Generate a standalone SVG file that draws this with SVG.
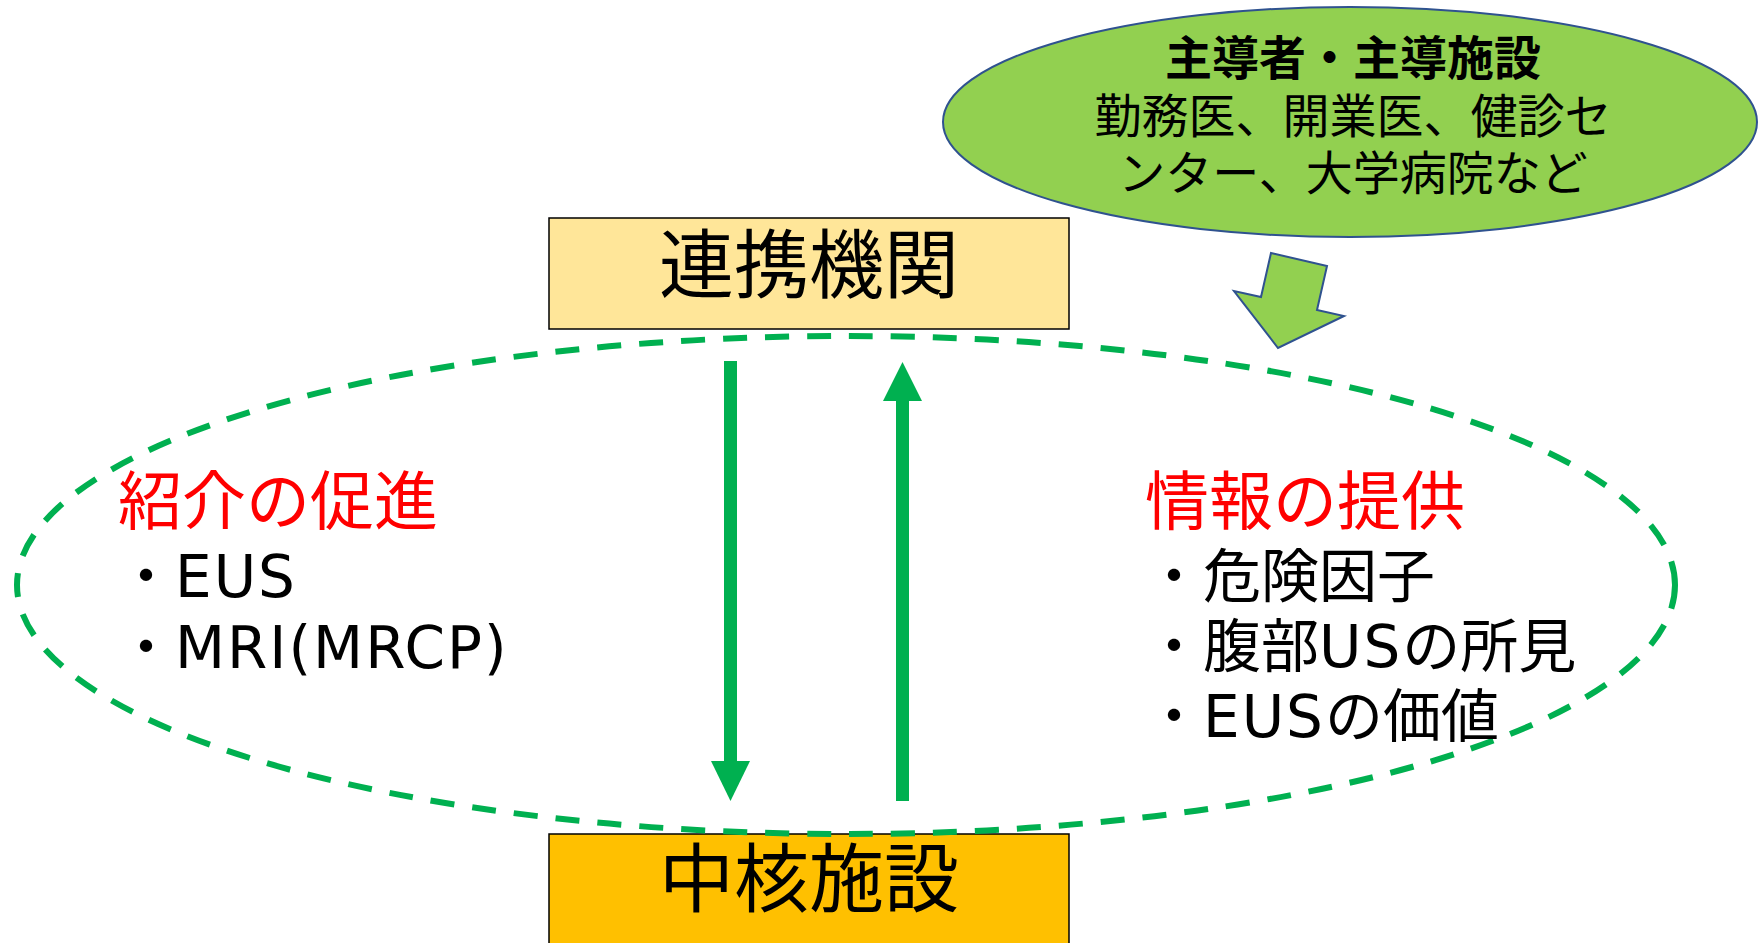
<svg xmlns="http://www.w3.org/2000/svg" width="1760" height="943" viewBox="0 0 1760 943">
<style>
.jp{font-family:"Noto Sans CJK JP","Noto Sans CJK SC",sans-serif;}
.mix{font-family:"DejaVu Sans","Noto Sans CJK JP",sans-serif;}
.lat{letter-spacing:2px;}
.box{stroke:#000;stroke-width:1.5;}
.big{font-size:75px;fill:#000;text-anchor:middle;}
.head{font-size:64px;fill:#FF0000;}
.item{font-size:58px;fill:#000;}
.bub{font-size:47px;fill:#000;text-anchor:middle;}
.garrow{fill:#00B050;}
</style>
<rect width="1760" height="943" fill="#FFFFFF"/>
<g id="node-renkei">
<rect class="box" x="549" y="218" width="520" height="111" fill="#FFE699"/>
<text class="jp big" x="809" y="292">連携機関</text>
</g>
<g id="node-chukaku">
<rect class="box" x="549" y="834" width="520" height="120" fill="#FFC000"/>
<text class="jp big" x="809" y="906">中核施設</text>
</g>
<g id="node-shudo">
<ellipse cx="1350" cy="122" rx="407" ry="115" fill="#92D050" stroke="#2F528F" stroke-width="2"/>
<text class="jp bub" x="1353" y="75" font-weight="bold">主導者・主導施設</text>
<text class="jp bub" x="1353" y="133">勤務医、開業医、健診セ</text>
<text class="jp bub" x="1353" y="190">ンター、大学病院など</text>
</g>
<g id="node-cooperation">
<ellipse cx="846" cy="585" rx="829" ry="249" fill="none" stroke="#00B050" stroke-width="6" stroke-dasharray="24 18"/>
</g>
<g id="node-left-text">
<text class="jp head" x="118" y="524">紹介の促進</text>
<text class="mix item" x="117" y="597">・<tspan class="lat">EUS</tspan></text>
<text class="mix item" x="117" y="668">・<tspan class="lat">MRI(MRCP)</tspan></text>
</g>
<g id="node-right-text">
<text class="jp head" x="1145" y="524">情報の提供</text>
<text class="mix item" x="1145" y="597">・危険因子</text>
<text class="mix item" x="1145" y="667">・腹部<tspan class="lat">US</tspan>の所見</text>
<text class="mix item" x="1145" y="737">・<tspan class="lat">EUS</tspan>の価値</text>
</g>
<g id="connectors">
<polygon points="1271,253 1327,266 1317,310 1344,316 1278,348 1234,291 1261,297" fill="#92D050" stroke="#2F528F" stroke-width="2" stroke-linejoin="miter"/>
<g class="garrow">
<rect x="724" y="361" width="13" height="401"/>
<polygon points="711,761 750,761 730.5,801"/>
<rect x="896" y="400" width="13" height="401"/>
<polygon points="883,401 922,401 902.5,362"/>
</g>
</g>
</svg>
